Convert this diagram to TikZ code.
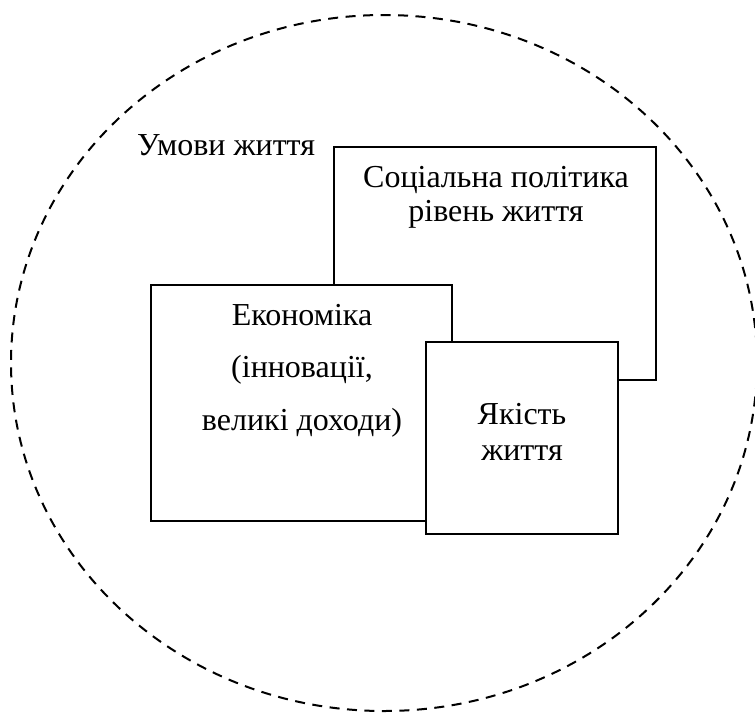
\documentclass[tikz,border=0pt]{standalone}
\usepackage{fontspec}
\setmainfont{Liberation Serif}
\begin{document}
\begin{tikzpicture}[x=1pt,y=1pt,
  boxline/.style={draw=black,line width=2pt,fill=white},
  txt/.style={inner sep=0pt,align=center,font={\fontsize{32}{33.5}\selectfont}},
  ovalline/.style={draw=black,line width=2pt,dash pattern=on 10pt off 7.5pt}]
\useasboundingbox (0,0) rectangle (755,-713);
\draw[ovalline] (384,-363) ellipse [x radius=373, y radius=348];
\node[txt,anchor=base west] (umovy) at (137,-155) {Умови життя};
% social policy box
\draw[boxline] (334,-147) rectangle (656,-380);
\node[txt,anchor=base] (soc) at (496,-221) {Соціальна політика\\рівень життя};
% economy box
\draw[boxline] (151,-285) rectangle (452,-521);
\node[txt,anchor=base,font={\fontsize{32}{52.5}\selectfont}] (econ) at (302,-430) {Економіка\\(інновації,\\великі доходи)};
% quality box
\draw[boxline] (426,-342) rectangle (618,-534);
\node[txt,anchor=base,font={\fontsize{32}{36}\selectfont}] (qual) at (522,-460) {Якість\\життя};
\end{tikzpicture}
\end{document}
